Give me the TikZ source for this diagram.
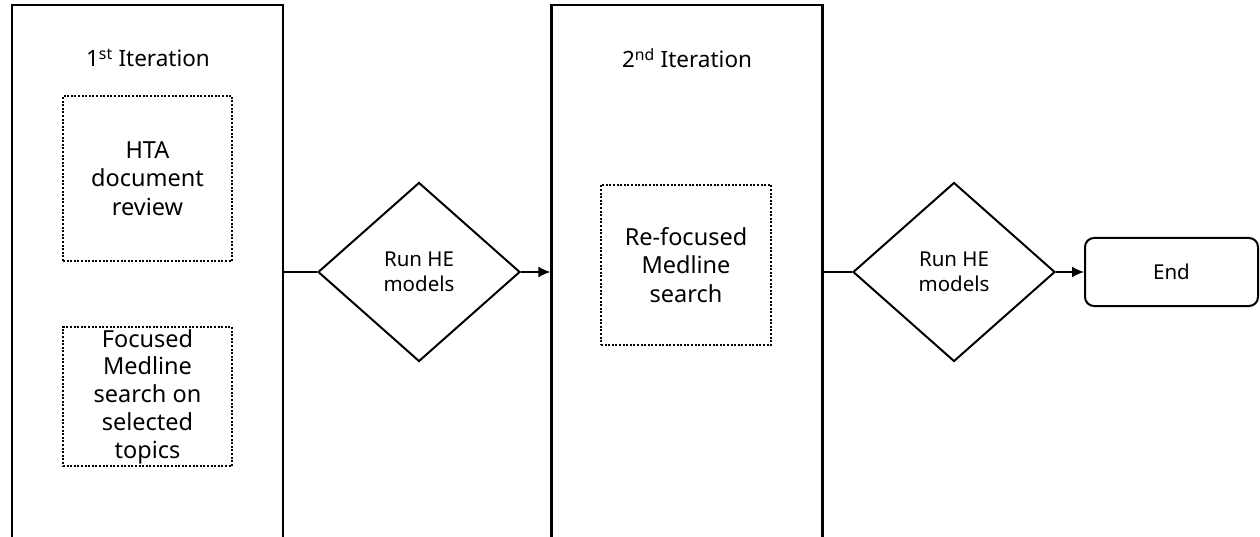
\documentclass[tikz,border=0pt]{standalone}
\usepackage{fontspec}
\setmainfont{Noto Sans}
\usetikzlibrary{shapes.geometric,arrows.meta}
\tikzset{
  iterbox/.style={draw, line width=2.4pt, minimum width=271pt, minimum height=600pt, inner sep=0pt},
  dotbox/.style={draw, line width=2pt, dash pattern=on 2pt off 1.6pt, minimum width=169pt, align=center, inner sep=0pt, font=\fontsize{23.5}{28.5}\selectfont},
  decision/.style={draw, diamond, line width=2pt, minimum width=202pt, minimum height=179pt, inner sep=0pt, aspect=1.13, align=center, font=\fontsize{20.5}{25}\selectfont},
  endbox/.style={draw, rounded corners=9pt, line width=2pt, minimum width=173pt, minimum height=68pt, font=\fontsize{20.5}{24}\selectfont},
  title/.style={font=\fontsize{22.5}{27}\selectfont},
  conn/.style={line width=1.5pt},
  arr/.style={conn, -{Latex[length=12pt,width=11pt]}}
}
\begin{document}
\begin{tikzpicture}[x=1pt,y=-1pt]
\useasboundingbox (0,0) rectangle (1260,537);
\clip (0,0) rectangle (1260,537);
\fill[white] (0,0) rectangle (1260,537);
\node[iterbox] (box1) at (147.5,305) {};
\node[iterbox] (box2) at (687,305) {};
\node[title] (t1) at (148,58) {1\textsuperscript{st} Iteration};
\node[title] (t2) at (687,58) {2\textsuperscript{nd} Iteration};
\node[dotbox, minimum height=165pt] (hta) at (147.5,178.5) {HTA\\document\\review};
\node[dotbox, minimum height=139pt, font=\fontsize{23.5}{27.8}\selectfont] (foc) at (147.5,396.5) {Focused\\Medline\\search on\\selected\\topics};
\node[dotbox, minimum height=160pt, minimum width=170pt] (ref) at (686,265) {Re-focused\\Medline\\search};
\node[decision] (d1) at (419,272) {Run HE\\models};
\node[decision] (d2) at (954,272) {Run HE\\models};
\node[endbox] (end) at (1171.5,272) {End};
\draw[conn] (d1.west -| box1.east) -- (d1.west);
\draw[arr] (d1.east) -- (d1.east -| box2.west);
\draw[conn] (d2.west -| box2.east) -- (d2.west);
\draw[arr] (d2.east) -- (end.west);
\end{tikzpicture}
\end{document}
